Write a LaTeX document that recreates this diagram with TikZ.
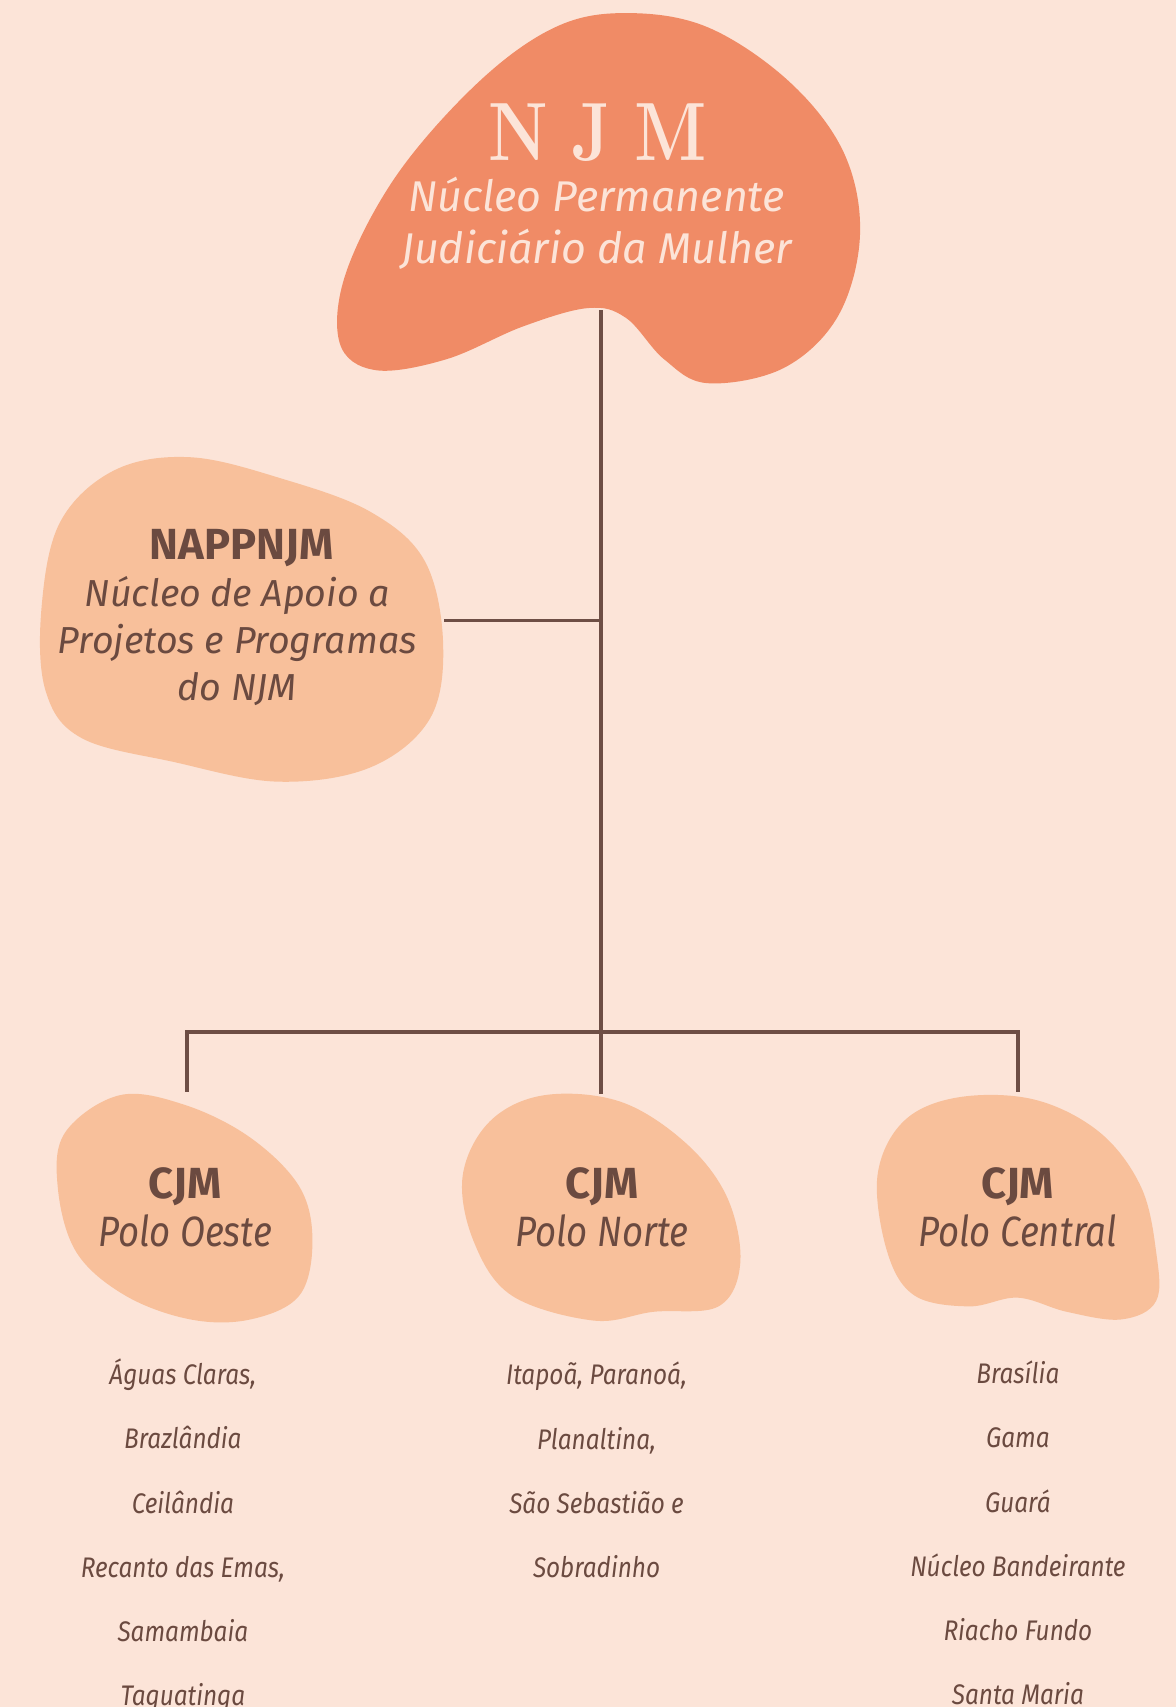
\documentclass[tikz,border=0pt]{standalone}
\usepackage{fontspec}
\setsansfont{Fira Sans}
\newfontfamily\plex{Fira Sans}
\newfontfamily\plexc[FakeStretch=0.86]{Fira Sans}
\definecolor{bgc}{HTML}{FCE4D8}
\definecolor{topblob}{HTML}{F08B66}
\definecolor{lowblob}{HTML}{F8C09B}
\definecolor{ink}{HTML}{6B4A40}
\definecolor{lightink}{HTML}{FCE4D8}
\definecolor{linec}{HTML}{6E4E45}
\tikzset{
  conn/.style={draw=linec, line width=3.5pt},
  blobA/.style={fill=topblob},
  blobB/.style={fill=lowblob},
  title/.style={text=lightink, font=\fontsize{76}{76}\selectfont\bfseries, inner sep=0pt},
  subtitle/.style={text=lightink, align=center, font=\plex\itshape\fontsize{39.5}{47}\selectfont, inner sep=0pt},
  boxbold/.style={text=ink, font=\plex\bfseries\fontsize{40}{44}\selectfont, inner sep=0pt},
  boxit/.style={text=ink, align=center, font=\plex\itshape\fontsize{34.5}{43}\selectfont, inner sep=0pt},
  polo/.style={text=ink, font=\plexc\itshape\fontsize{39}{44}\selectfont, inner sep=0pt},
  place/.style={text=ink, align=center, font=\plexc\itshape\fontsize{26}{59}\selectfont, inner sep=0pt, anchor=north}
}
\begin{document}
\begin{tikzpicture}[x=1pt,y=-1pt]
\clip (0,0) rectangle (1080,1568);
\fill[bgc] (0,0) rectangle (1080,1568);

% blobs
\fill[blobA] plot[smooth cycle, tension=0.6] coordinates {(575,12) (650,25) (725,75) (775,140) (790,215) (770,290) (720,338) (650,352) (610,330) (575,292) (540,283) (480,300) (410,330) (345,340) (312,315) (318,250) (365,160) (440,75) (510,25)};
\fill[blobB] plot[smooth cycle, tension=0.6] coordinates {(175,420) (260,440) (340,470) (390,515) (407,590) (395,660) (340,705) (255,718) (160,700) (75,678) (42,635) (38,560) (55,480) (105,432)};
\fill[blobB] plot[smooth cycle, tension=0.6] coordinates {(110,1006) (170,1015) (230,1045) (275,1090) (287,1140) (275,1190) (230,1212) (175,1212) (115,1190) (70,1150) (53,1090) (60,1040)};
\fill[blobB] plot[smooth cycle, tension=0.6] coordinates {(500,1006) (570,1012) (630,1050) (668,1100) (680,1160) (660,1200) (600,1205) (545,1213) (470,1190) (435,1140) (425,1080) (450,1030)};
\fill[blobB] plot[smooth cycle, tension=0.6] coordinates {(880,1008) (950,1010) (1010,1040) (1048,1090) (1062,1150) (1062,1195) (1030,1212) (980,1205) (935,1192) (890,1200) (840,1190) (815,1150) (806,1080) (830,1030)};

% text nodes
\node[title] (njm) at (549,122) {\scalebox{0.82}[1]{N\hspace{26pt}J\hspace{26pt}M}};
\node[subtitle] (njmsub) at (548,205) {Núcleo Permanente\\Judiciário da Mulher};
\node[boxbold] (napp) at (222,503) {NAPPNJM};
\node[boxit] (nappsub) at (218,589) {Núcleo de Apoio a\\Projetos e Programas\\do NJM};
\node[boxbold] (cjmO) at (170,1090) {CJM};
\node[polo] (poloO) at (170,1131) {Polo Oeste};
\node[boxbold] (cjmN) at (553,1090) {CJM};
\node[polo] (poloN) at (553,1131) {Polo Norte};
\node[boxbold] (cjmC) at (935,1090) {CJM};
\node[polo] (poloC) at (935,1131) {Polo Central};

\node[place] (listO) at (168,1248) {Águas Claras,\\Brazlândia\\Ceilândia\\Recanto das Emas,\\Samambaia\\Taguatinga};
\node[place] (listN) at (548,1251) {Itapoã, Paranoá,\\Planaltina,\\São Sebastião e\\Sobradinho};
\node[place] (listC) at (935,1250) {Brasília\\Gama\\Guará\\Núcleo Bandeirante\\Riacho Fundo\\Santa Maria};

% connector anchors
\coordinate (njmbase) at (552,285);
\coordinate (nappR) at (408,570);
\coordinate (hub) at (552,948);
\coordinate (topO) at (172,1003);
\coordinate (topN) at (552,1005);
\coordinate (topC) at (935,1003);

\draw[conn] (njmbase) -- (topN);
\draw[conn] (nappR) -- (nappR -| njmbase);
\draw[conn] (topO) |- (hub) -| (topC);
\end{tikzpicture}
\end{document}
